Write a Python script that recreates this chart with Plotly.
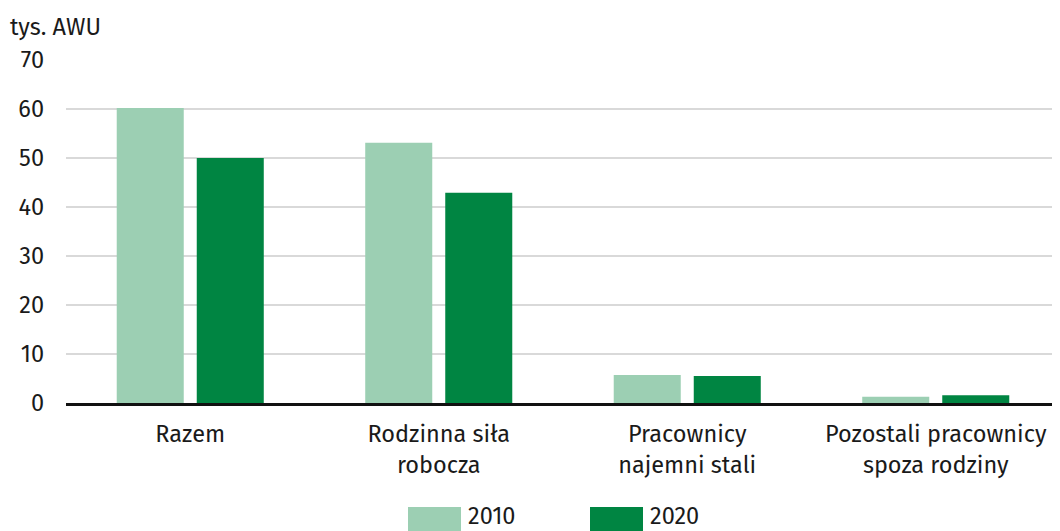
import plotly.graph_objects as go

categories = ["Razem", "Rodzinna siła<br>robocza", "Pracownicy<br>najemni stali", "Pozostali pracownicy<br>spoza rodziny"]
years = ["2010", "2020"]
values_2010 = [60.2, 53.1, 5.7, 1.3]
values_2020 = [50.0, 42.9, 5.5, 1.6]

colors = ["#9ccfb3", "#008542"]
font_family = "Fira Sans, Noto Sans, Open Sans, sans-serif"

# page body adds an 8px margin, so the figure is sized to fit the window
W, H = 1052, 523
L, T, B = 58, 52, 128
plot_w, plot_h = W - L, H - T - B
bottom = T + plot_h

fig = go.Figure()
for name, vals, col in zip(years, [values_2010, values_2020], colors):
    fig.add_trace(go.Bar(x=categories, y=vals, name=name, marker=dict(color=col, line=dict(width=0))))

fig.update_layout(
    width=W, height=H,
    margin=dict(l=L, r=0, t=T, b=B),
    paper_bgcolor="white", plot_bgcolor="white",
    barmode="group", bargap=0.356, bargroupgap=0.1625,
    showlegend=False,
    font=dict(family=font_family, size=23.5, color="#1a1a1a"),
)
fig.update_yaxes(range=[0, 70], dtick=10, showgrid=True, gridcolor="#d9d9d9", gridwidth=1.5,
                 zeroline=False, showline=False, ticks="", ticklabelstandoff=21)
fig.update_xaxes(showline=True, linecolor="#111111", linewidth=2.5, ticks="", ticklabelstandoff=8)

# y-axis unit title
fig.add_annotation(text="tys. AWU", xref="paper", yref="paper", x=-L / plot_w, y=1.0, yshift=33,
                   xanchor="left", yanchor="middle", showarrow=False)

# custom legend with wide swatches
legend_x = [400, 582]
for name, col, lx in zip(years, colors, legend_x):
    fig.add_shape(type="rect", xref="paper", yref="paper",
                  x0=(lx - L) / plot_w, x1=(lx + 53 - L) / plot_w,
                  y0=(bottom - 523) / plot_h, y1=(bottom - 499) / plot_h,
                  fillcolor=col, line=dict(width=0))
    fig.add_annotation(text=name, xref="paper", yref="paper", x=(lx + 58 - L) / plot_w,
                       y=(bottom - 508) / plot_h, xanchor="left", yanchor="middle",
                       showarrow=False)

fig.write_html("out.html")
